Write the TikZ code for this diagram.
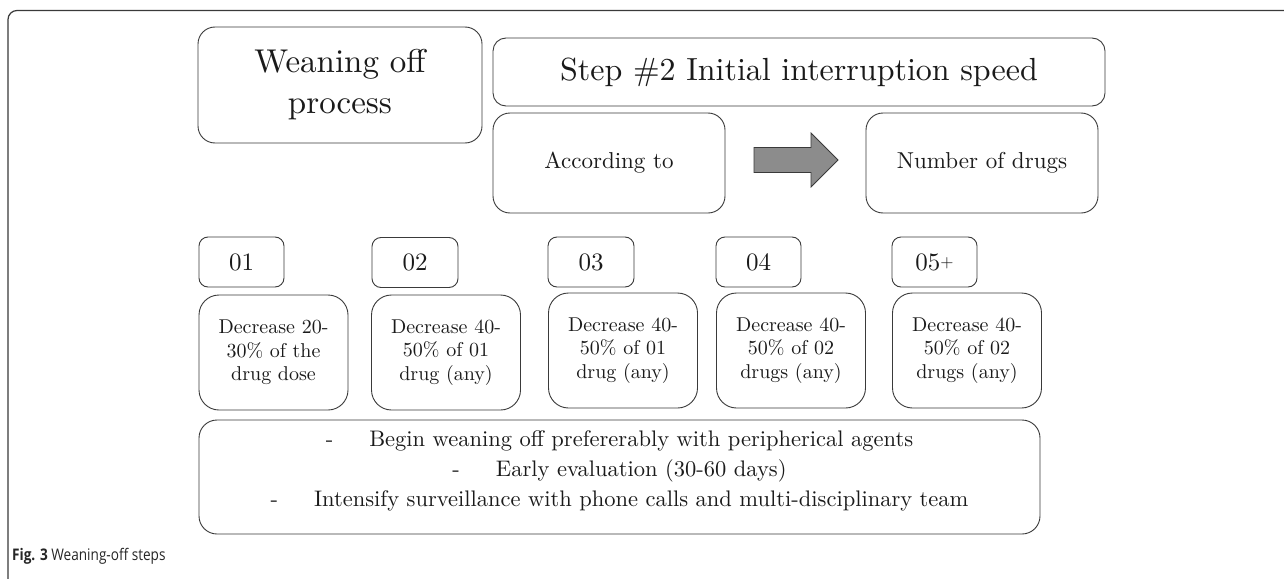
\documentclass[tikz,border=0pt]{standalone}
\usepackage{fontspec}
\setmainfont{lmroman10-regular}[Extension=.otf]
\newfontfamily\capfont{Open Sans}[FakeStretch=0.85]
\definecolor{edge}{HTML}{3A3A3A}
\definecolor{ink}{HTML}{1A1A1A}
\definecolor{arrowfill}{HTML}{8C8C8C}
\tikzset{
  rbox/.style={draw=edge, line width=0.9pt, rounded corners=17pt, inner sep=0pt, align=center, text=ink},
  sbox/.style={draw=edge, line width=0.9pt, rounded corners=9pt, inner sep=0pt, text=ink},
  arrowshape/.style={draw=edge, line width=0.8pt, fill=arrowfill, line join=miter},
}
\begin{document}
\begin{tikzpicture}[x=1pt,y=-1pt]
\useasboundingbox (0,0) rectangle (1284,578);
\fill[white] (0,0) rectangle (1284,578);
% outer frame (open to the right and bottom)
\coordinate (ftr) at (1290,10.5);
\coordinate (fbl) at (8,590);
\draw[edge, line width=1.2pt, rounded corners=9pt] (ftr) -| (fbl);

\node[rbox, minimum width=284pt, minimum height=116pt, font=\fontsize{33}{41}\selectfont] (wean) at (340,85) {Weaning off\\process};
\node[rbox, rounded corners=13pt, minimum width=612pt, minimum height=68pt, font=\fontsize{32}{36}\selectfont] (step) at (799,72) {Step \#2 Initial interruption speed};
\node[rbox, minimum width=232pt, minimum height=100pt, font=\fontsize{23}{28}\selectfont] (acc) at (609,163) {According to};
\node[rbox, minimum width=232pt, minimum height=100pt, font=\fontsize{23}{28}\selectfont] (num) at (982,163) {Number of drugs};
% block arrow between the two boxes
\draw[arrowshape] (754,147.5) -- (811,147.5) -- (811,133) -- (838,160) -- (811,187) -- (811,172.5) -- (754,172.5) -- cycle;

\tikzset{numtxt/.style={sbox, minimum height=50pt, font=\fontsize{25}{30}\selectfont}}
\node[numtxt, minimum width=85pt] (n1) at (241.5,262) {01};
\node[numtxt, minimum width=86pt] (n2) at (415,262.5) {02};
\node[numtxt, minimum width=86pt] (n3) at (591,262) {03};
\node[numtxt, minimum width=85pt] (n4) at (758.5,262) {04};
\node[numtxt, minimum width=85pt] (n5) at (934.5,262) {05\raisebox{2.5pt}{\fontsize{17}{20}\selectfont +}};

\tikzset{dec/.style={rbox, rounded corners=20pt, minimum width=149pt, minimum height=115pt, font=\fontsize{20}{23.5}\selectfont}}
\node[dec] (d1) at (273.5,352.5) {Decrease 20-\\30\% of the\\drug dose};
\node[dec] (d2) at (446,352.5) {Decrease 40-\\50\% of 01\\drug (any)};
\node[dec] (d3) at (623,350.5) {Decrease 40-\\50\% of 01\\drug (any)};
\node[dec] (d4) at (791,350.5) {Decrease 40-\\50\% of 02\\drugs (any)};
\node[dec] (d5) at (967,350.5) {Decrease 40-\\50\% of 02\\drugs (any)};

\node[rbox, rounded corners=18pt, minimum width=841pt, minimum height=114pt] (bot) at (619.5,477) {};
\node[align=center, inner sep=0pt, text=ink, font=\fontsize{22.5}{30}\selectfont] (bottxt) at (619.5,471)
  {-\hspace{1.6em}Begin weaning off prefererably with peripherical agents\\
   -\hspace{1.6em}Early evaluation (30-60 days)\\
   -\hspace{1.6em}Intensify surveillance with phone calls and multi-disciplinary team};

\node[anchor=base west, inner sep=0pt, font=\capfont\fontsize{16}{20}\selectfont, text=black!85] (cap) at (12,560) {\textbf{Fig. 3} Weaning-off steps};
\end{tikzpicture}
\end{document}
